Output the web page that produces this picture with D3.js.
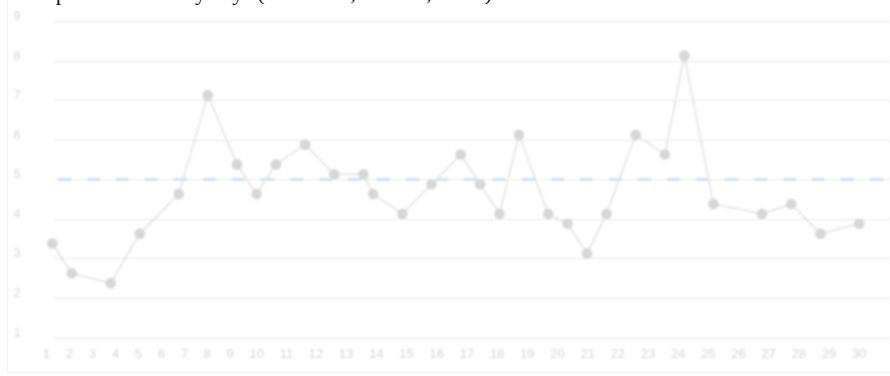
<!DOCTYPE html>
<html>
<head>
<meta charset="utf-8">
<script src="https://cdn.jsdelivr.net/npm/d3@7"></script>
<style>
  html, body { margin: 0; padding: 0; background: #ffffff; }
  svg { display: block; }
</style>
</head>
<body>
<script>
// ---- data ----
const titleText = "Temperature trend by days (minimum, median, mean)";
const dayLabels = Array.from({length: 30}, (_, i) => String(i + 1));
const yTicks = [1, 2, 3, 4, 5, 6, 7, 8, 9];
const sampleSlots = [0, 2, 6, 9, 13, 16, 19, 21, 23, 26, 29, 32, 33, 36, 39, 42, 44, 46, 48, 51, 53, 55, 57, 60, 63, 65, 68, 73, 76, 79, 83];
const sampleValues = [3.25, 2.5, 2.25, 3.5, 4.5, 7, 5.25, 4.5, 5.25, 5.75, 5, 5, 4.5, 4, 4.75, 5.5, 4.75, 4, 6, 4, 3.75, 3, 4, 6, 5.5, 8, 4.25, 4, 4.25, 3.5, 3.75];
const referenceValue = 5;

// ---- layout ----
const W = 890, H = 376;
const svg = d3.select("body").append("svg").attr("width", W).attr("height", H);

const defs = svg.append("defs");
defs.append("filter").attr("id", "soft")
  .attr("x", "-5%").attr("y", "-5%").attr("width", "110%").attr("height", "110%")
  .append("feGaussianBlur").attr("stdDeviation", 0.8);

// card frame
svg.append("rect")
  .attr("x", 7.5).attr("y", -10).attr("width", W + 20).attr("height", 382.5)
  .attr("fill", "none").attr("stroke", "#f3f3f3").attr("stroke-width", 1);

// title (mostly clipped at the top, as in the source)
svg.append("text")
  .attr("x", 17).attr("y", 0)
  .attr("font-family", "'Liberation Serif', 'Times New Roman', serif")
  .attr("font-size", 22)
  .attr("fill", "#111")
  .text(titleText);

const g = svg.append("g").attr("filter", "url(#soft)");

const x = d3.scaleLinear().domain([0, 83]).range([52.3, 859.3]);
const y = d3.scaleLinear().domain([1, 9]).range([332.6, 16]);
const gridOffset = 5;
const gy = v => Math.round(y(v) + gridOffset) + 0.5;

// gridlines
g.append("g").selectAll("line").data(yTicks).join("line")
  .attr("x1", 55).attr("x2", W)
  .attr("y1", d => gy(d)).attr("y2", d => gy(d))
  .attr("stroke", "#d2d2d2").attr("stroke-width", 1)
  .attr("stroke-dasharray", "2,2");

// y labels
g.append("g").selectAll("text").data(yTicks).join("text")
  .attr("x", 17).attr("y", d => y(d))
  .attr("text-anchor", "middle").attr("dominant-baseline", "central")
  .attr("font-family", "'Liberation Sans', Arial, sans-serif")
  .attr("font-size", 12)
  .attr("fill", "#d6d6d6")
  .text(d => d);

// reference dashed line
g.append("line")
  .attr("x1", 58).attr("x2", W)
  .attr("y1", gy(referenceValue)).attr("y2", gy(referenceValue))
  .attr("stroke", "#cfe1f6").attr("stroke-width", 3)
  .attr("stroke-dasharray", "13,16");

// day labels laid out in a row with a fixed gap
const labelGap = 15.7;
const dayG = g.append("g");
const dayTexts = dayG.selectAll("text").data(dayLabels).join("text")
  .attr("y", 353.5)
  .attr("text-anchor", "middle").attr("dominant-baseline", "central")
  .attr("font-family", "'Liberation Sans', Arial, sans-serif")
  .attr("font-size", 13)
  .attr("fill", "#d6d6d6")
  .text(d => d);
let cursor = 46.7 - dayTexts.nodes()[0].getComputedTextLength() / 2;
dayTexts.each(function () {
  const w = this.getComputedTextLength();
  d3.select(this).attr("x", cursor + w / 2);
  cursor += w + labelGap;
});

// series line
const pts = sampleSlots.map((s, i) => [s, sampleValues[i]]);
g.append("path")
  .datum(pts)
  .attr("fill", "none")
  .attr("stroke", "#e2e2e2")
  .attr("stroke-width", 1.5)
  .attr("d", d3.line().x(d => x(d[0])).y(d => y(d[1])));

// points
g.append("g").selectAll("circle").data(pts).join("circle")
  .attr("cx", d => x(d[0])).attr("cy", d => y(d[1]))
  .attr("r", 5.3)
  .attr("fill", "#d7d7d7");
</script>
</body>
</html>
